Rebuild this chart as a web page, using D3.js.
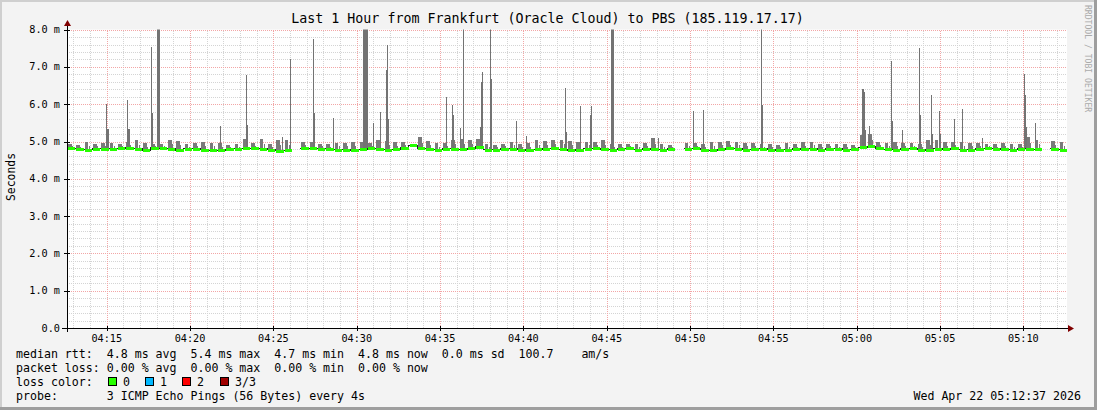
<!DOCTYPE html>
<html lang="en">
<head>
<meta charset="UTF-8">
<title>SmokePing - Frankfurt to PBS</title>
<style>
    body { margin: 0; background: #fff; }
    svg { display: block; }
    text { font-family: "DejaVu Sans Mono", monospace; fill: #000; white-space: pre; }
</style>
</head>
<body>
<script src="https://cdn.jsdelivr.net/npm/d3@7/dist/d3.min.js"></script>
<script>
    const width = 1097, height = 410;

    // graph window: last hour up to the timestamp
    const startTime = new Date(2026, 3, 22, 4, 12, 37);
    const endTime = new Date(2026, 3, 22, 5, 12, 37);
    const stepSec = 30;

    // median rtt in ms, one value per 30 s (null = no data)
    const medianRtt = [
        4.82, 4.80, 4.78, 4.80, 4.80, 4.81, 4.82, 4.83, 4.80, 4.76,
        4.83, 4.82, 4.80, 4.77, 4.80, 4.80, 4.78, 4.77, 4.76, 4.79,
        4.80, 4.82, 4.82, 4.81, 4.78, 4.75, 4.77, null, 4.82, 4.82,
        4.81, 4.80, 4.78, 4.78, 4.77, 4.79, 4.82, 4.80, 4.78, 4.79,
        4.83, 4.90, 4.82, 4.80, 4.78, 4.81, 4.80, 4.79, 4.82, 4.86,
        4.78, 4.78, 4.80, 4.81, 4.78, 4.76, 4.79, 4.80, 4.82, 4.79,
        4.77, 4.78, 4.80, 4.82, 4.79, 4.78, 4.80, 4.82, 4.78, 4.80,
        4.79, 4.78, 4.81, null, 4.81, 4.82, 4.78, 4.77, 4.79, 4.82,
        4.80, 4.78, 4.79, 4.81, 4.78, 4.77, 4.78, 4.80, 4.79, 4.80,
        4.78, 4.81, 4.80, 4.78, 4.79, 4.85, 4.87, 4.82, 4.79, 4.78,
        4.80, 4.82, 4.78, 4.77, 4.80, 4.79, 4.82, 4.78, 4.78, 4.80,
        4.82, 4.81, 4.79, 4.78, 4.80, 4.81, 4.79, null, 4.80, 4.78
    ];

    // top of the low smoke near the median, per 30 s
    const smokeTop = [
        4.93, 4.90, 4.99, 4.94, 4.96, 4.95, 4.92, 5.00, 5.03, 4.97,
        4.92, 4.94, 5.05, 5.02, 4.93, 4.95, 4.98, 4.97, 4.96, 4.90,
        4.93, 5.06, 4.95, 5.08, 4.92, 5.05, 5.03, null, 4.98, 4.99,
        4.94, 4.93, 4.96, 4.97, 4.99, 5.00, 4.95, 5.03, 5.02, 4.99,
        4.99, 4.93, 5.12, 5.02, 4.95, 4.96, 5.05, 5.06, 5.04, 5.07,
        4.94, 4.91, 4.94, 4.99, 4.93, 4.96, 5.03, 5.02, 5.04, 5.05,
        5.02, 4.98, 4.99, 5.00, 5.03, 4.93, 4.92, 4.94, 4.93, 4.95,
        5.10, 4.92, 4.91, null, 4.95, 4.96, 4.94, 4.99, 5.00, 5.01,
        5.00, 4.96, 4.95, 4.92, 4.93, 4.91, 4.95, 4.92, 4.99, 5.00,
        4.93, 4.93, 4.92, 4.94, 4.91, 5.18, 5.20, 4.99, 4.95, 4.99,
        4.95, 4.96, 4.94, 5.04, 5.03, 4.99, 4.98, 5.00, 4.97, 4.96,
        4.93, 4.92, 4.95, 4.94, 4.92, 5.12, 5.05, null, 5.02, 4.98
    ];

    // single slow pings: [seconds after start, rtt ms]
    const spikes = [
        [140, 6.00], [144, 5.33], [148, 5.33],
        [216, 6.11], [220, 5.33], [224, 5.33],
        [302, 7.53], [306, 5.77],
        [324, 8.5], [328, 8.5], [332, 8.5],
        [551, 5.41],
        [644, 6.77], [648, 5.45],
        [774, 5.13],
        [803, 7.20],
        [886, 7.76], [890, 5.77],
        [958, 5.63],
        [1066, 8.5], [1070, 8.5], [1074, 8.5], [1078, 8.5],
        [1102, 5.50],
        [1127, 5.79],
        [1148, 6.92], [1152, 7.59], [1156, 5.60],
        [1364, 6.20],
        [1386, 5.98], [1390, 5.70],
        [1415, 5.37],
        [1426, 8.3],
        [1486, 5.40], [1490, 6.60], [1494, 6.85],
        [1523, 8.5], [1527, 6.67],
        [1617, 5.55],
        [1652, 5.15],
        [1793, 6.43], [1797, 5.25],
        [1847, 5.95],
        [1883, 5.70], [1887, 5.95],
        [1958, 8.5], [1962, 8.5], [1966, 8.5],
        [2128, 5.10],
        [2254, 5.81],
        [2290, 5.84],
        [2498, 8.5], [2502, 5.97],
        [2862, 6.42], [2866, 6.42], [2870, 6.33], [2874, 5.30],
        [2887, 5.41],
        [2966, 7.17], [2970, 5.55],
        [3006, 5.30],
        [3067, 7.52], [3071, 5.70],
        [3110, 6.24], [3114, 5.20],
        [3139, 5.83], [3143, 5.20],
        [3193, 5.60],
        [3222, 5.87],
        [3294, 5.10],
        [3445, 6.81], [3449, 6.24], [3453, 5.40],
        [3485, 5.50]
    ];

    const yTicks = [0, 1, 2, 3, 4, 5, 6, 7, 8];

    const titleText = "Last 1 Hour from Frankfurt (Oracle Cloud) to PBS (185.119.17.17)";
    const legendLines = [
        "median rtt:  4.8 ms avg  5.4 ms max  4.7 ms min  4.8 ms now  0.0 ms sd  100.7    am/s",
        "packet loss: 0.00 % avg  0.00 % max  0.00 % min  0.00 % now",
        "loss color:",
        "probe:       3 ICMP Echo Pings (56 Bytes) every 4s"
    ];
    const lossLabels = ["0", "1", "2", "3/3"];
    const lossColors = ["#26ff00", "#00b8ff", "#ff0000", "#a00000"];
    const stampText = "Wed Apr 22 05:12:37 2026";

    const x = d3.scaleTime().domain([startTime, endTime]).range([67, 1067]);
    const y = d3.scaleLinear().domain([0, 8]).range([328, 29.6]);
    const at = s => new Date(startTime.getTime() + s * 1000);

    const svg = d3.select("body").append("svg")
        .attr("width", width)
        .attr("height", height);

    // canvas with rrdtool style shaded frame
    svg.append("rect").attr("width", width).attr("height", height).attr("fill", "#f3f3f3");
    svg.append("rect").attr("x", 0).attr("y", 0).attr("width", width).attr("height", 2).attr("fill", "#cfcfcf");
    svg.append("rect").attr("x", 0).attr("y", 0).attr("width", 2).attr("height", height).attr("fill", "#cfcfcf");
    svg.append("rect").attr("x", width - 3).attr("y", 0).attr("width", 3).attr("height", height).attr("fill", "#9e9e9e");
    svg.append("rect").attr("x", 0).attr("y", height - 3).attr("width", width).attr("height", 3).attr("fill", "#9e9e9e");

    svg.append("rect")
        .attr("x", x.range()[0]).attr("y", y(8))
        .attr("width", x.range()[1] - x.range()[0])
        .attr("height", y(0) - y(8))
        .attr("fill", "#fff");

    svg.append("defs").append("clipPath").attr("id", "plot")
        .append("rect")
        .attr("x", x.range()[0]).attr("y", y(8))
        .attr("width", x.range()[1] - x.range()[0])
        .attr("height", y(0) - y(8));

    // grid
    const grid = svg.append("g").attr("shape-rendering", "crispEdges");
    const minorTimes = x.ticks(d3.timeMinute.every(1));
    const majorTimes = x.ticks(d3.timeMinute.every(5));
    const minorVals = d3.range(1, 40).map(k => k / 5).filter(v => v % 1 !== 0);

    grid.selectAll("line.vmin").data(minorTimes.filter(t => t.getMinutes() % 5 !== 0))
        .enter().append("line")
        .attr("x1", d => Math.round(x(d)) + 0.5).attr("x2", d => Math.round(x(d)) + 0.5)
        .attr("y1", y(0)).attr("y2", y(8))
        .attr("stroke", "#d4d4d4").attr("stroke-dasharray", "1,1");
    grid.selectAll("line.hmin").data(minorVals)
        .enter().append("line")
        .attr("x1", x.range()[0]).attr("x2", x.range()[1])
        .attr("y1", d => Math.round(y(d)) + 0.5).attr("y2", d => Math.round(y(d)) + 0.5)
        .attr("stroke", "#d4d4d4").attr("stroke-dasharray", "1,1");
    grid.selectAll("line.vmaj").data(majorTimes)
        .enter().append("line")
        .attr("x1", d => Math.round(x(d)) + 0.5).attr("x2", d => Math.round(x(d)) + 0.5)
        .attr("y1", y(0)).attr("y2", y(8))
        .attr("stroke", "#f2a6a6").attr("stroke-dasharray", "1,1");
    grid.selectAll("line.hmaj").data(yTicks.slice(1))
        .enter().append("line")
        .attr("x1", x.range()[0]).attr("x2", x.range()[1])
        .attr("y1", d => Math.round(y(d)) + 0.5).attr("y2", d => Math.round(y(d)) + 0.5)
        .attr("stroke", "#f2a6a6").attr("stroke-dasharray", "1,1");

    // smoke and median
    const plot = svg.append("g").attr("clip-path", "url(#plot)").attr("shape-rendering", "crispEdges");
    const samples = medianRtt.map((m, i) => ({i: i, m: m, top: smokeTop[i]})).filter(d => d.m !== null);
    const stepPx = x(at(stepSec)) - x(at(0));

    // low smoke: a few thin bars inside every step
    plot.selectAll("rect.smoke").data(samples)
        .enter().append("rect")
        .attr("x", d => x(at(d.i * stepSec)) + 1)
        .attr("width", stepPx * 0.45)
        .attr("y", d => y(d.top))
        .attr("height", d => y(d.m) - y(d.top))
        .attr("fill", "#7a7a7a");
    plot.selectAll("rect.smoke2").data(samples)
        .enter().append("rect")
        .attr("x", d => x(at(d.i * stepSec)) + stepPx * 0.6)
        .attr("width", 1)
        .attr("y", d => y((d.top + d.m) / 2))
        .attr("height", d => y(d.m) - y((d.top + d.m) / 2))
        .attr("fill", "#7a7a7a");

    plot.selectAll("rect.spike").data(spikes)
        .enter().append("rect")
        .attr("x", d => x(at(d[0])))
        .attr("width", d => Math.max(1, x(at(d[0] + 4)) - x(at(d[0]))))
        .attr("y", d => y(d[1]))
        .attr("height", d => {
            const m = medianRtt[Math.floor(d[0] / stepSec)] || 4.8;
            return y(m) - y(d[1]);
        })
        .attr("fill", "#737373");

    const medPts = [];
    medianRtt.forEach((m, i) => {
        medPts.push({t: i * stepSec, m: m});
        medPts.push({t: (i + 1) * stepSec, m: m});
    });
    plot.append("path")
        .datum(medPts)
        .attr("fill", "none")
        .attr("stroke", "#202020")
        .attr("stroke-width", 1)
        .attr("d", d3.line().defined(d => d.m !== null).x(d => x(at(d.t))).y(d => y(d.m)));

    plot.selectAll("rect.med").data(samples)
        .enter().append("rect")
        .attr("x", d => x(at(d.i * stepSec)) + 1)
        .attr("width", stepPx - 1)
        .attr("y", d => y(d.m) - 1)
        .attr("height", 3)
        .attr("fill", lossColors[0]);

    // axes
    const axes = svg.append("g").attr("shape-rendering", "crispEdges");
    axes.append("line").attr("x1", 62).attr("x2", 1068).attr("y1", 328.5).attr("y2", 328.5).attr("stroke", "#000");
    axes.append("line").attr("x1", 67.5).attr("x2", 67.5).attr("y1", 332).attr("y2", 25).attr("stroke", "#000");
    axes.selectAll("line.yt").data(yTicks)
        .enter().append("line")
        .attr("x1", 64).attr("x2", 70)
        .attr("y1", d => Math.round(y(d)) + 0.5).attr("y2", d => Math.round(y(d)) + 0.5)
        .attr("stroke", "#000");
    axes.selectAll("line.xt").data(majorTimes)
        .enter().append("line")
        .attr("x1", d => Math.round(x(d)) + 0.5).attr("x2", d => Math.round(x(d)) + 0.5)
        .attr("y1", 326).attr("y2", 331)
        .attr("stroke", "#000");
    svg.append("path").attr("d", "M64,26 L71,26 L67.5,20 Z").attr("fill", "#800000");
    svg.append("path").attr("d", "M1068,325 L1068,332 L1074,328.5 Z").attr("fill", "#800000");

    svg.selectAll("text.yl").data(yTicks)
        .enter().append("text")
        .attr("x", 60).attr("y", d => y(d))
        .attr("dy", "0.35em")
        .attr("text-anchor", "end")
        .style("font-size", "10.2px")
        .text(d => d === 0 ? "0.0" : d3.format(".1f")(d) + " m");

    svg.selectAll("text.xl").data(majorTimes)
        .enter().append("text")
        .attr("x", d => x(d)).attr("y", 342)
        .attr("text-anchor", "middle")
        .style("font-size", "10.2px")
        .text(d3.timeFormat("%H:%M"));

    // titles
    svg.append("text")
        .attr("x", 547.5).attr("y", 23)
        .attr("text-anchor", "middle")
        .style("font-size", "13.3px")
        .text(titleText);

    svg.append("text")
        .attr("transform", "translate(14.5,177) rotate(-90)")
        .attr("text-anchor", "middle")
        .style("font-size", "11.4px")
        .text("Seconds");

    svg.append("text")
        .attr("transform", "translate(1085,5) rotate(90)")
        .style("font-size", "8.1px")
        .style("fill", "#aaaaaa")
        .text("RRDTOOL / TOBI OETIKER");

    // legend
    const legendY = [358, 372, 386, 400];
    svg.selectAll("text.leg").data(legendLines)
        .enter().append("text")
        .attr("x", 16).attr("y", (d, i) => legendY[i])
        .style("font-size", "11.6px")
        .text(d => d);

    const boxX = [108, 145, 182, 220];
    lossLabels.forEach((lab, i) => {
        svg.append("rect")
            .attr("x", boxX[i] + 0.5).attr("y", 377.5)
            .attr("width", 8).attr("height", 8)
            .attr("fill", lossColors[i])
            .attr("stroke", "#000")
            .attr("shape-rendering", "crispEdges");
        svg.append("text")
            .attr("x", boxX[i] + 15).attr("y", legendY[2])
            .style("font-size", "11.6px")
            .text(lab);
    });

    svg.append("text")
        .attr("x", 1081).attr("y", legendY[3])
        .attr("text-anchor", "end")
        .style("font-size", "11.6px")
        .text(stampText);
</script>
</body>
</html>
